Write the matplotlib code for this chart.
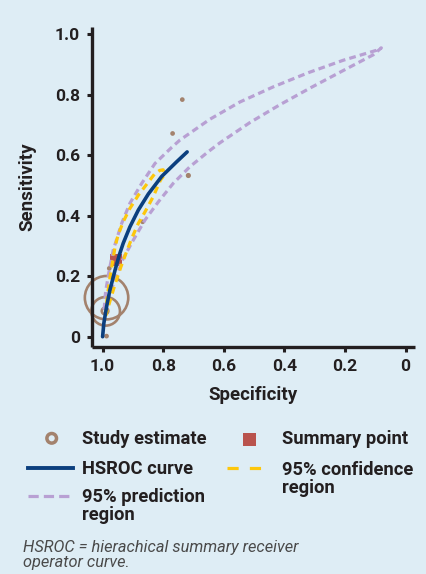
import matplotlib
matplotlib.use("Agg")
import matplotlib.pyplot as plt
from matplotlib.lines import Line2D
from matplotlib.patches import Rectangle

# ---------------- data ----------------
study_spec = [0.737, 0.769, 0.717, 0.868, 0.978, 0.987, 0.992, 0.990, 0.987]
study_sens = [0.784, 0.672, 0.533, 0.380, 0.226, 0.002, 0.085, 0.084, 0.129]
study_weight = [1, 1, 1.5, 1, 1, 1, 10, 193, 444]

summary_spec = [0.957]
summary_sens = [0.255]

hsroc_spec = [1.000, 0.996, 0.987, 0.976, 0.959, 0.945, 0.932, 0.910, 0.882,
              0.849, 0.805, 0.756, 0.721]
hsroc_sens = [0.000, 0.044, 0.099, 0.154, 0.220, 0.270, 0.309, 0.363, 0.419,
              0.472, 0.530, 0.578, 0.611]

conf_spec = [0.990, 0.985, 0.975, 0.965, 0.959, 0.949, 0.932, 0.910, 0.882,
             0.850, 0.827, 0.811, 0.800, 0.796, 0.809, 0.833, 0.860, 0.882,
             0.904, 0.921, 0.940, 0.960, 0.975, 0.990]
conf_sens = [0.070, 0.130, 0.200, 0.260, 0.297, 0.336, 0.380, 0.424, 0.468,
             0.510, 0.540, 0.550, 0.552, 0.535, 0.518, 0.463, 0.413, 0.375,
             0.325, 0.281, 0.230, 0.170, 0.120, 0.070]

pred_spec = [0.995, 0.990, 0.978, 0.965, 0.937, 0.910, 0.871, 0.827, 0.772,
             0.745, 0.646, 0.547, 0.437, 0.321, 0.206, 0.096, 0.080,
             0.107, 0.206, 0.310, 0.415, 0.514, 0.613, 0.651, 0.712, 0.767,
             0.816, 0.860, 0.899, 0.932, 0.958, 0.978, 0.995]
pred_sens = [0.090, 0.150, 0.220, 0.286, 0.375, 0.441, 0.507, 0.573, 0.626,
             0.650, 0.719, 0.776, 0.826, 0.873, 0.914, 0.947, 0.955,
             0.932, 0.880, 0.825, 0.767, 0.708, 0.641, 0.612, 0.562, 0.507,
             0.446, 0.386, 0.319, 0.259, 0.190, 0.140, 0.090]

ticks = [1.0, 0.8, 0.6, 0.4, 0.2, 0.0]
tick_labels = ["1.0", "0.8", "0.6", "0.4", "0.2", "0"]
ytick_labels = ["0", "0.2", "0.4", "0.6", "0.8", "1.0"]

legend_labels = ["Study estimate", "Summary point", "HSROC curve",
                 "95% confidence\nregion", "95% prediction\nregion"]
footnote = "HSROC = hierachical summary receiver\noperator curve."

# ---------------- style ----------------
BG = "#deedf5"
TXT = "#231f20"
BROWN = "#a3826d"
RED = "#b9534d"
BLUE = "#0b3f7e"
YELLOW = "#fdc70c"
PURPLE = "#b8a0d3"
FONT = "Roboto"

W, H = 427, 574
fig = plt.figure(figsize=(W / 100, H / 100), dpi=100, facecolor=BG)

l, r, t, b = 91.7, 415.0, 26.7, 346.7
ax = fig.add_axes([l / W, 1 - b / H, (r - l) / W, (b - t) / H])
ax.set_facecolor(BG)

ax.scatter(study_spec, study_sens, s=[w * 2.2 for w in study_weight],
           facecolors="none", edgecolors=BROWN, linewidths=1.9,
           clip_on=False, zorder=2)
ax.scatter(summary_spec, summary_sens, s=78, marker="s", color=RED,
           linewidths=0, zorder=2.2)
ax.plot(pred_spec, pred_sens, color=PURPLE, lw=2.3,
        linestyle=(0, (2.1, 1.3)), dash_capstyle="butt", zorder=3)
ax.plot(conf_spec, conf_sens, color=YELLOW, lw=2.3,
        linestyle=(0, (2.2, 1.6)), dash_capstyle="butt", zorder=3.2)
ax.plot(hsroc_spec, hsroc_sens, color=BLUE, lw=2.6,
        solid_capstyle="round", solid_joinstyle="round", zorder=3.5)

ax.set_xlim(1.036, -0.031)
ax.set_ylim(-0.033, 1.025)
ax.set_xticks(ticks)
ax.set_xticklabels(tick_labels)
ax.set_yticks(ticks[::-1])
ax.set_yticklabels(ytick_labels)
for s in ["top", "right"]:
    ax.spines[s].set_visible(False)
for s in ["left", "bottom"]:
    ax.spines[s].set_linewidth(2.4)
    ax.spines[s].set_color(TXT)
    ax.spines[s].set_capstyle("butt")
ax.tick_params(direction="out", length=3.5, width=2.2, color=TXT, pad=5.0)
for lab in ax.get_xticklabels() + ax.get_yticklabels():
    lab.set_fontfamily(FONT)
    lab.set_fontweight("bold")
    lab.set_fontsize(12.5)
    lab.set_color(TXT)

ax.set_xlabel("Specificity", fontfamily=FONT, fontweight="bold",
              fontsize=13.5, color=TXT, va="center")
ax.xaxis.set_label_coords(0.5, (b - 395) / (b - t))
ax.set_ylabel("Sensitivity", fontfamily=FONT, fontweight="bold",
              fontsize=13.5, color=TXT, va="center", ha="center")
ax.yaxis.set_label_coords((27.5 - l) / (r - l), 0.5)

# ---------------- legend (pixel-coordinate overlay) ----------------
lax = fig.add_axes([0, 0, 1, 1])
lax.set_xlim(0, W)
lax.set_ylim(H, 0)
lax.axis("off")
lax.patch.set_alpha(0)

lax.scatter([51.7], [438.3], s=48, facecolors="none", edgecolors=BROWN,
            linewidths=2.5)
lax.add_patch(Rectangle((243, 432.5), 13, 13, color=RED, lw=0))
lax.add_line(Line2D([28, 73], [468.3, 468.3], color=BLUE, lw=2.8))
lax.add_line(Line2D([227, 268], [467.7, 467.7], color=YELLOW, lw=2.3,
                    linestyle=(0, (3.5, 3.5)), dash_capstyle="butt"))
lax.add_line(Line2D([28, 73], [496, 496], color=PURPLE, lw=2.3,
                    linestyle=(0, (3.2, 1.6)), dash_capstyle="butt"))

lkw = dict(fontfamily=FONT, fontweight="bold", fontsize=13.2, color=TXT,
           va="center", ha="left", linespacing=1.0)
lax.text(81.7, 438.5, legend_labels[0], **lkw)
lax.text(281.7, 438.5, legend_labels[1], **lkw)
lax.text(81.7, 469.5, legend_labels[2], **lkw)
lax.text(281.7, 479.3, legend_labels[3], **lkw)
lax.text(81.7, 506.3, legend_labels[4], **lkw)

lax.text(23, 555, footnote, fontfamily=FONT, fontstyle="italic",
         fontsize=11.8, color="#4a4a4a", va="center", ha="left",
         linespacing=1.05)

fig.savefig("out.png", dpi=100, facecolor=BG)
